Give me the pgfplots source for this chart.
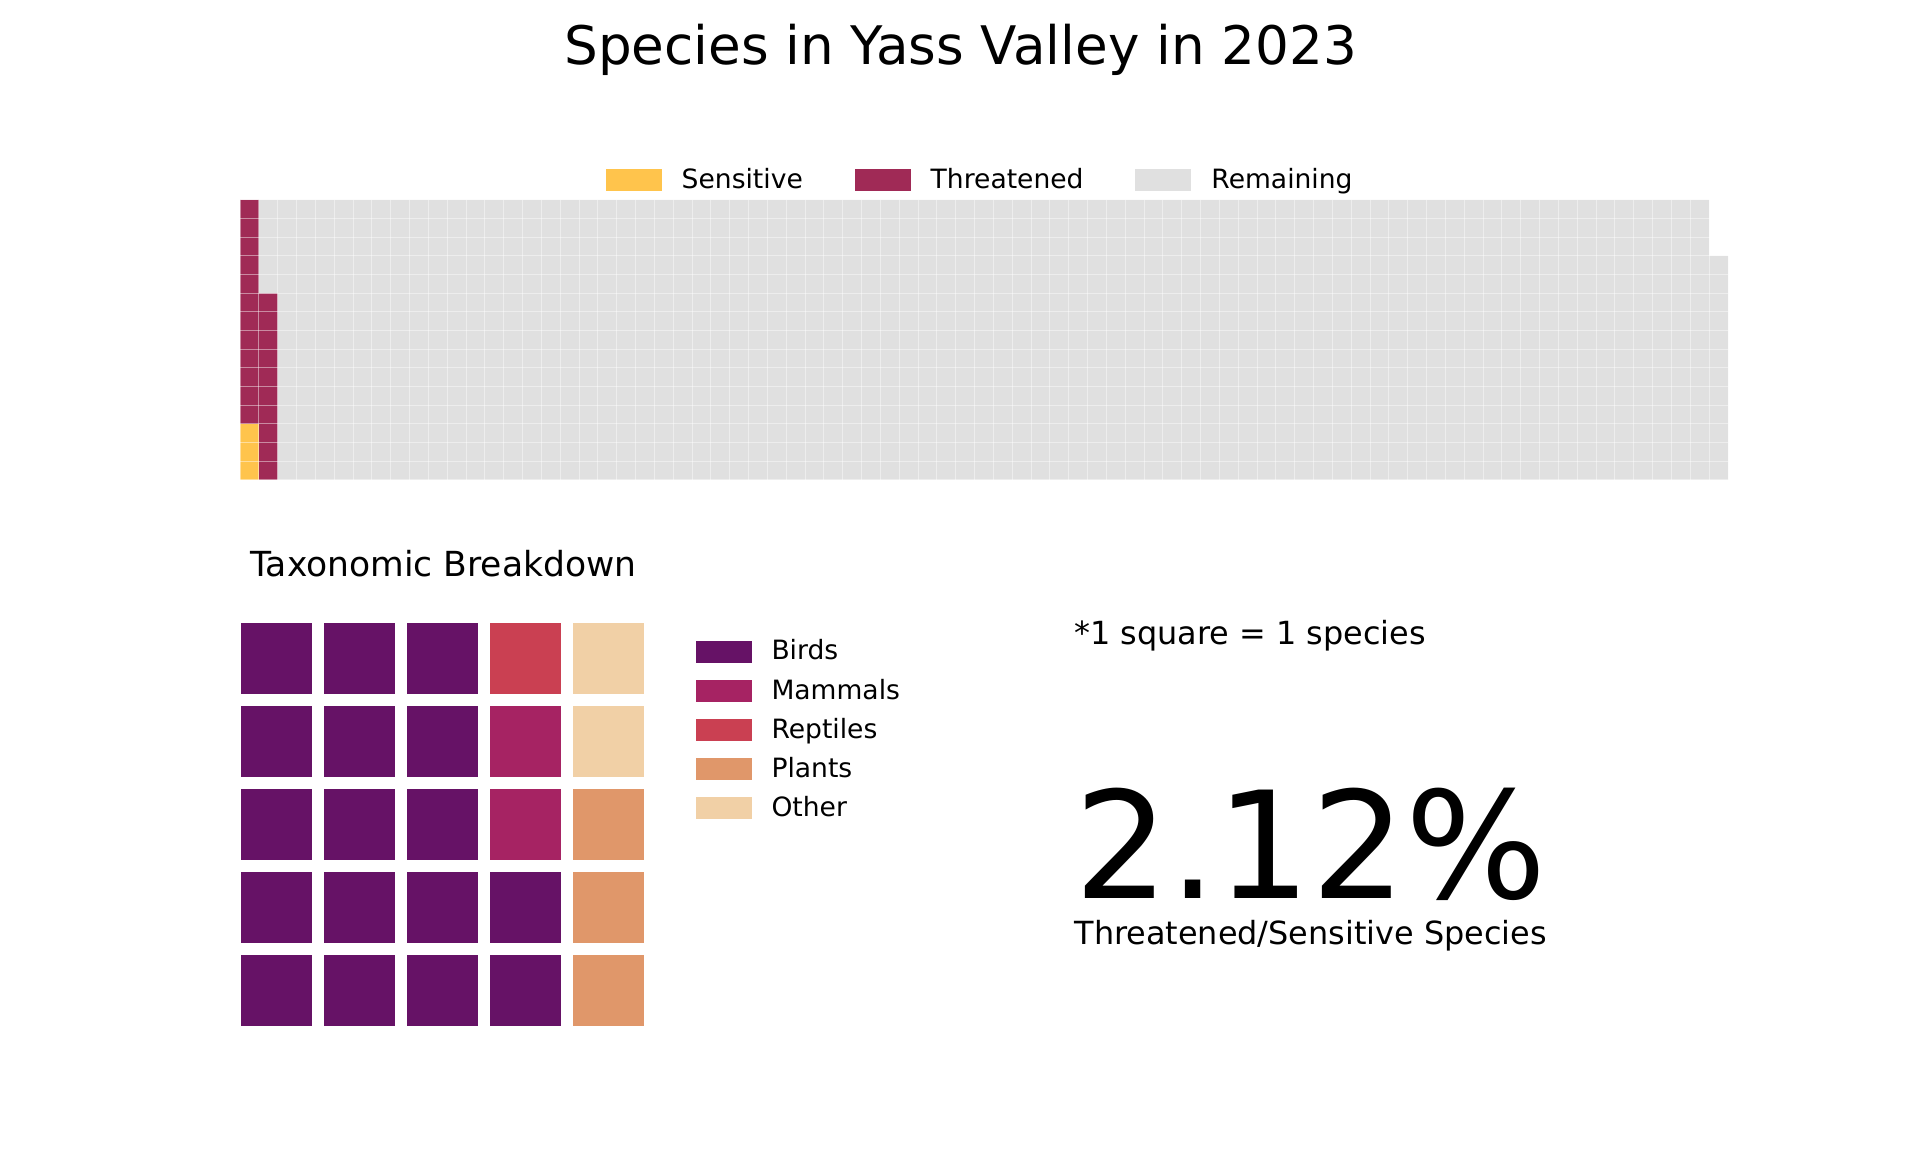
\documentclass[border=0pt]{standalone}
\usepackage{pgfplots}
\pgfplotsset{compat=1.18}
\usepackage{pgfplotstable}
\usepackage{fontspec}
\setmainfont{DejaVu Sans}
\definecolor{sens}{HTML}{FFC44C}
\definecolor{thr}{HTML}{A02A56}
\definecolor{rem}{HTML}{E0E0E0}
\definecolor{birds}{HTML}{661266}
\definecolor{mammals}{HTML}{A62363}
\definecolor{reptiles}{HTML}{CA4052}
\definecolor{plants}{HTML}{E0976A}
\definecolor{other}{HTML}{F1D0A6}
\pgfplotstableread{
x s t r
0.5 3 12 0
1.5 0 10 5
2.5 0 0 15
3.5 0 0 15
4.5 0 0 15
5.5 0 0 15
6.5 0 0 15
7.5 0 0 15
8.5 0 0 15
9.5 0 0 15
10.5 0 0 15
11.5 0 0 15
12.5 0 0 15
13.5 0 0 15
14.5 0 0 15
15.5 0 0 15
16.5 0 0 15
17.5 0 0 15
18.5 0 0 15
19.5 0 0 15
20.5 0 0 15
21.5 0 0 15
22.5 0 0 15
23.5 0 0 15
24.5 0 0 15
25.5 0 0 15
26.5 0 0 15
27.5 0 0 15
28.5 0 0 15
29.5 0 0 15
30.5 0 0 15
31.5 0 0 15
32.5 0 0 15
33.5 0 0 15
34.5 0 0 15
35.5 0 0 15
36.5 0 0 15
37.5 0 0 15
38.5 0 0 15
39.5 0 0 15
40.5 0 0 15
41.5 0 0 15
42.5 0 0 15
43.5 0 0 15
44.5 0 0 15
45.5 0 0 15
46.5 0 0 15
47.5 0 0 15
48.5 0 0 15
49.5 0 0 15
50.5 0 0 15
51.5 0 0 15
52.5 0 0 15
53.5 0 0 15
54.5 0 0 15
55.5 0 0 15
56.5 0 0 15
57.5 0 0 15
58.5 0 0 15
59.5 0 0 15
60.5 0 0 15
61.5 0 0 15
62.5 0 0 15
63.5 0 0 15
64.5 0 0 15
65.5 0 0 15
66.5 0 0 15
67.5 0 0 15
68.5 0 0 15
69.5 0 0 15
70.5 0 0 15
71.5 0 0 15
72.5 0 0 15
73.5 0 0 15
74.5 0 0 15
75.5 0 0 15
76.5 0 0 15
77.5 0 0 15
78.5 0 0 12
}\waffle
\pgfplotsset{
  sqlegend/.style={legend image code/.code={\fill[##1, draw=none] (0bp,-4.125bp) rectangle (21bp,4.125bp);}},
}
\begin{document}
\begin{tikzpicture}
\path[use as bounding box] (0bp,0bp) rectangle (720bp,432bp);
\node[anchor=base, inner sep=0pt, font=\fontsize{20}{24}\selectfont] at (360.2bp,407.8bp) {Species in Yass Valley in 2023};
% top waffle
\begin{axis}[
  at={(90bp,252bp)}, anchor=south west,
  width=558bp, height=105bp, scale only axis,
  xmin=0, xmax=79, ymin=0, ymax=15,
  ybar stacked, bar width=1,
  xtick={0,...,79}, ytick={0,...,15},
  xticklabels={}, yticklabels={},
  major tick length=0pt,
  axis line style={draw=none},
  grid=major, major grid style={white, opacity=0.45, line width=0.375bp},
  axis on top,
  legend columns=3,
  legend style={at={(0.2453,1.025)}, anchor=south west, draw=none, fill=none, inner sep=0pt,
    nodes={inner sep=0pt, font=\fontsize{10}{12}\selectfont},
    /tikz/every odd column/.append style={column sep=7.56bp},
    /tikz/every even column/.append style={column sep=19.4bp, text height=7.6bp, text depth=2.4bp}},
]
\addplot[fill=sens, draw=none, sqlegend] table[x=x, y=s] {\waffle};
\addplot[fill=thr, draw=none, sqlegend] table[x=x, y=t] {\waffle};
\addplot[fill=rem, draw=none, sqlegend] table[x=x, y=r] {\waffle};
\legend{Sensitive, Threatened, Remaining}
\end{axis}
\node[anchor=base west, inner sep=0pt, font=\fontsize{13}{15}\selectfont] at (93.75bp,215.74bp) {Taxonomic Breakdown};
% bottom waffle
\begin{axis}[
  at={(88.1bp,44.9bp)}, anchor=south west,
  width=155.7bp, height=155.7bp, scale only axis,
  xmin=0, xmax=5, ymin=0, ymax=5,
  hide axis, clip=false,
  legend columns=1,
  legend style={at={(1.108,0.947)}, anchor=north west, draw=none, fill=none, inner sep=0pt,
    row sep=5.6bp,
    nodes={inner sep=0pt, font=\fontsize{10}{12}\selectfont},
    /tikz/every odd column/.append style={column sep=7.5bp},
    /tikz/every even column/.append style={text height=7.6bp, text depth=2.4bp}},
  legend cell align=left,
]
\addplot[only marks, mark=square*, color=birds, mark size=13.2bp, mark options={draw=none}, sqlegend] coordinates {
(0.5,0.5) (0.5,1.5) (0.5,2.5) (0.5,3.5) (0.5,4.5)
(1.5,0.5) (1.5,1.5) (1.5,2.5) (1.5,3.5) (1.5,4.5)
(2.5,0.5) (2.5,1.5) (2.5,2.5) (2.5,3.5) (2.5,4.5)
(3.5,0.5) (3.5,1.5)};
\addplot[only marks, mark=square*, color=mammals, mark size=13.2bp, mark options={draw=none}, sqlegend] coordinates {(3.5,2.5) (3.5,3.5)};
\addplot[only marks, mark=square*, color=reptiles, mark size=13.2bp, mark options={draw=none}, sqlegend] coordinates {(3.5,4.5)};
\addplot[only marks, mark=square*, color=plants, mark size=13.2bp, mark options={draw=none}, sqlegend] coordinates {(4.5,0.5) (4.5,1.5) (4.5,2.5)};
\addplot[only marks, mark=square*, color=other, mark size=13.2bp, mark options={draw=none}, sqlegend] coordinates {(4.5,3.5) (4.5,4.5)};
\legend{Birds, Mammals, Reptiles, Plants, Other}
\end{axis}
\node[anchor=base west, inner sep=0pt, font=\fontsize{12}{14}\selectfont] at (402.75bp,190.39bp) {*1 square = 1 species};
\node[anchor=base west, inner sep=0pt, font=\fontsize{56}{60}\selectfont] at (402.75bp,95.14bp) {2.12\%};
\node[anchor=base west, inner sep=0pt, font=\fontsize{12}{14}\selectfont] at (402.75bp,77.63bp) {Threatened/Sensitive Species};
\end{tikzpicture}
\end{document}
